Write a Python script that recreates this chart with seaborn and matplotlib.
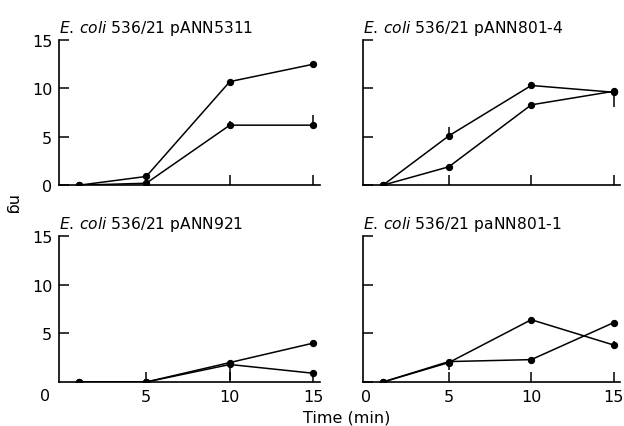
import numpy as np
import pandas as pd
import matplotlib
matplotlib.use("Agg")
import matplotlib.pyplot as plt
import seaborn as sns

# data
time = [1, 5, 10, 15]

titles = ["pANN5311", "pANN801-4", "pANN921", "paNN801-1"]

# two series per panel (ng)
pANN5311_a = [0, 0.9, 10.7, 12.5]
pANN5311_b = [0, 0.2, 6.2, 6.2]
pANN801_4_a = [0, 5.1, 10.3, 9.6]
pANN801_4_b = [0, 1.9, 8.3, 9.7]
pANN921_a = [0, 0, 2.0, 4.0]
pANN921_b = [0, 0, 1.8, 0.9]
paNN801_1_a = [0, 2.0, 6.4, 3.8]
paNN801_1_b = [0, 2.1, 2.3, 6.1]

# error bars (lower, upper)
pANN5311_b_err = [[0, 0, 0, 0], [0, 0, 0.4, 1.0]]
pANN801_4_a_err = [[0, 0, 0, 0], [0, 0.9, 0.4, 0]]
pANN801_4_b_err = [[0, 0, 0, 1.6], [0, 0, 0, 0.3]]
pANN921_a_err = [[0, 0, 1.8, 0], [0, 0, 0, 0]]
paNN801_1_a_err = [[0, 0.8, 0, 0], [0, 0, 0, 0.4]]

panels = [
    [(pANN5311_a, None), (pANN5311_b, pANN5311_b_err)],
    [(pANN801_4_a, pANN801_4_a_err), (pANN801_4_b, pANN801_4_b_err)],
    [(pANN921_a, pANN921_a_err), (pANN921_b, None)],
    [(paNN801_1_a, paNN801_1_a_err), (paNN801_1_b, None)],
]

sns.set_style("ticks")
plt.rcParams['font.family'] = ['DejaVu Sans']
plt.rcParams['text.color'] = 'black'
plt.rcParams['axes.titlecolor'] = 'black'

fig = plt.figure(figsize=(6.24, 4.27), dpi=100)
# axes boxes [left, bottom, width, height]
boxes = [
    [0.095, 0.564, 0.418, 0.340],
    [0.582, 0.564, 0.412, 0.340],
    [0.095, 0.103, 0.418, 0.342],
    [0.582, 0.103, 0.412, 0.342],
]

for i, (box, title, series) in enumerate(zip(boxes, titles, panels)):
    ax = fig.add_axes(box)
    for vals, err in series:
        df = pd.DataFrame({"time": time, "ng": vals})
        sns.lineplot(data=df, x="time", y="ng", ax=ax, color="black",
                     marker="o", markersize=4.5, markeredgecolor="black",
                     linewidth=1.1)
        if err is not None:
            ax.errorbar(time, vals, yerr=err, fmt="none", ecolor="black",
                        elinewidth=1.1, capsize=0)
    ax.set_xlim(-0.2, 15.4)
    ax.set_ylim(0, 15)
    ax.set_xticks([5, 10, 15])
    ax.set_yticks([0, 5, 10, 15])
    ax.tick_params(direction="in", length=7, width=1.1, labelsize=11.5,
                   colors="black", pad=5)
    sns.despine(ax=ax)
    ax.spines["left"].set_linewidth(1.2)
    ax.spines["bottom"].set_linewidth(1.2)
    ax.spines["left"].set_color("black")
    ax.spines["bottom"].set_color("black")
    ax.set_xlabel("")
    ax.set_ylabel("")
    if i < 2:
        ax.set_xticklabels([])
    elif i == 2:
        ax.set_yticks([5, 10, 15])
        ax.annotate("0", xy=(0, 0), xycoords="axes fraction",
                    xytext=(-10, -10), textcoords="offset points",
                    ha="center", va="center", fontsize=11.5, color="black")
    else:
        ax.set_xticks([0, 5, 10, 15])
        ax.set_xticklabels(["0", "5", "10", "15"])
        ax.xaxis.get_major_ticks()[0].tick1line.set_visible(False)
    if i % 2 == 1:
        ax.set_yticklabels([])
    ax.set_title(r"$\it{E.\,coli}$ 536/21 " + title, loc="left",
                 fontsize=11.2, pad=6, color="black")

fig.text(0.02, 0.52, "ng", rotation=-90, fontsize=11.5, ha="center",
         va="center", color="black")
fig.text(0.555, 0.022, "Time (min)", fontsize=11.5, ha="center",
         va="center", color="black")

plt.savefig("out.png", dpi=100)
